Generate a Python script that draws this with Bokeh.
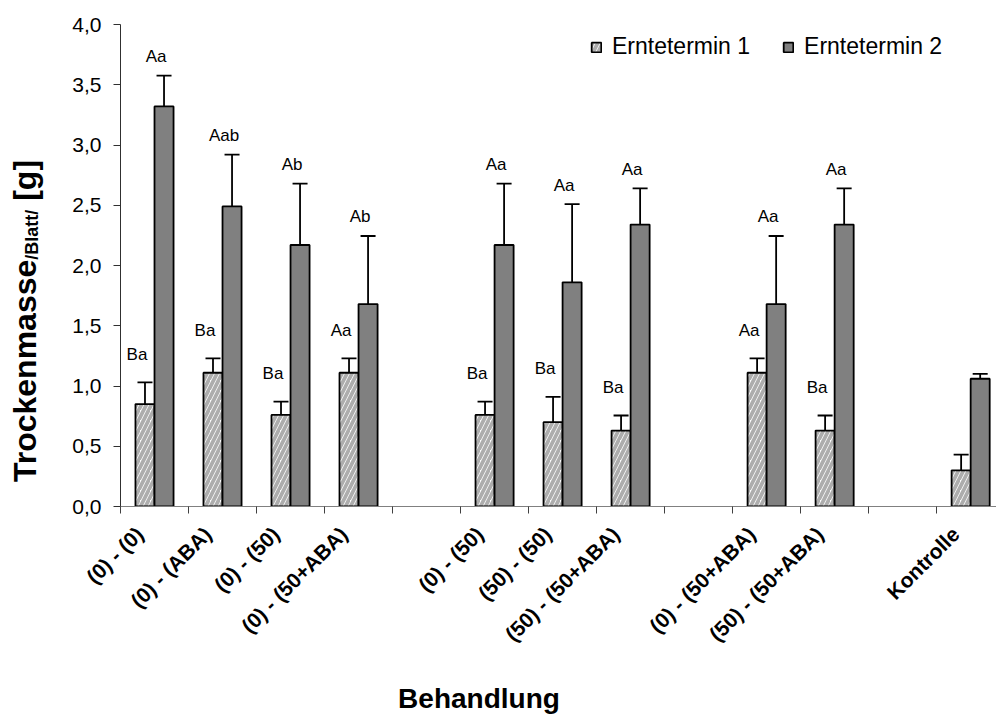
from math import pi

from bokeh.core.properties import value
from bokeh.embed import file_html
from bokeh.layouts import column, row
from bokeh.models import (ColumnDataSource, Div, FixedTicker, Legend, LegendItem,
                          Range1d, TeeHead, Whisker)
from bokeh.plotting import figure
from bokeh.resources import INLINE

# Treatment slots along the x axis; empty strings are spacer slots between groups
treatments = ["(0) - (0)", "(0) - (ABA)", "(0) - (50)", "(0) - (50+ABA)", "",
              "(0) - (50)", "(50) - (50)", "(50) - (50+ABA)", "",
              "(0) - (50+ABA)", "(50) - (50+ABA)", "", "Kontrolle"]

# Dry mass per leaf [g] and error, harvest date 1 and 2 (one value per non-empty slot)
mean_h1 = [0.85, 1.11, 0.76, 1.11, 0.76, 0.70, 0.63, 1.11, 0.63, 0.30]
err_h1 = [0.18, 0.12, 0.11, 0.12, 0.11, 0.21, 0.125, 0.12, 0.125, 0.13]
mean_h2 = [3.32, 2.49, 2.17, 1.68, 2.17, 1.86, 2.34, 1.68, 2.34, 1.06]
err_h2 = [0.255, 0.43, 0.51, 0.565, 0.51, 0.65, 0.30, 0.565, 0.30, 0.04]

# Significance letters
sig_h1 = ["Ba", "Ba", "Ba", "Aa", "Ba", "Ba", "Ba", "Aa", "Ba", ""]
sig_h2 = ["Aa", "Aab", "Ab", "Ab", "Aa", "Aa", "Aa", "Aa", "Aa", ""]

y_ticks = [0.0, 0.5, 1.0, 1.5, 2.0, 2.5, 3.0, 3.5, 4.0]

FONT = "Liberation Sans"
BAR_W = 0.28
TOTAL_W, TOTAL_H = 996, 715
LABEL_COL_W = 60      # column holding the y axis title
TITLE_ROW_H = 35      # row holding the x axis title
PLOT_H = TOTAL_H - TITLE_ROW_H

slots = [i for i, t in enumerate(treatments) if t]
x1 = [s + 0.5 - BAR_W / 2 for s in slots]
x2 = [s + 0.5 + BAR_W / 2 for s in slots]

src1 = ColumnDataSource(dict(x=x1, top=mean_h1,
                             lower=[m - e for m, e in zip(mean_h1, err_h1)],
                             upper=[m + e for m, e in zip(mean_h1, err_h1)],
                             sig=sig_h1))
src2 = ColumnDataSource(dict(x=x2, top=mean_h2,
                             lower=[m - e for m, e in zip(mean_h2, err_h2)],
                             upper=[m + e for m, e in zip(mean_h2, err_h2)],
                             sig=sig_h2))

p = figure(width=TOTAL_W - LABEL_COL_W, height=PLOT_H, output_backend="svg",
           toolbar_location=None, x_range=Range1d(0, 12.88), y_range=Range1d(0, 4),
           min_border_left=60, min_border_right=0, min_border_top=24,
           min_border_bottom=174)
p.outline_line_color = None
p.xgrid.visible = False
p.ygrid.visible = False
p.background_fill_color = "white"
p.border_fill_color = "white"

r1 = p.vbar(x="x", top="top", width=BAR_W, bottom=0, source=src1,
            fill_color="white", line_color="black", line_width=1.8,
            hatch_pattern="/", hatch_color="#adadad", hatch_weight=3.8,
            hatch_scale=10)
r2 = p.vbar(x="x", top="top", width=BAR_W, bottom=0, source=src2,
            fill_color="#808080", line_color="black", line_width=1.8)

for src in (src1, src2):
    p.add_layout(Whisker(base="x", lower="lower", upper="upper", source=src,
                         line_color="black", line_width=1.8,
                         upper_head=TeeHead(size=15, line_color="black", line_width=1.8),
                         lower_head=TeeHead(size=15, line_color="black", line_width=1.8)))

# Significance letters above the error bars
p.text(x="x", y="upper", text="sig", source=src1, x_offset=-8, y_offset=-28,
       text_font=value(FONT), text_font_size="17px", text_align="center",
       text_baseline="middle", text_color="black")
p.text(x="x", y="upper", text="sig", source=src2, x_offset=-8, y_offset=-19,
       text_font=value(FONT), text_font_size="17px", text_align="center",
       text_baseline="middle", text_color="black")

# Y axis
yax = p.yaxis[0]
yax.ticker = FixedTicker(ticks=y_ticks, minor_ticks=[])
yax.major_label_overrides = {t: f"{t:.1f}".replace(".", ",") for t in y_ticks}
yax.major_label_text_font = FONT
yax.major_label_text_font_size = "21px"
yax.major_label_text_color = "black"
yax.major_label_standoff = 12
yax.major_tick_out = 7
yax.major_tick_in = 0
yax.minor_tick_out = 0
yax.axis_line_color = "#303030"
yax.major_tick_line_color = "#303030"

# X axis: labels under each treatment, tick marks between slots
label_pos = [s + 0.5 - 0.22 for s in slots]
xax = p.xaxis[0]
xax.ticker = FixedTicker(ticks=label_pos, minor_ticks=list(range(len(treatments))))
xax.major_label_overrides = {pos: treatments[s] for pos, s in zip(label_pos, slots)}
xax.major_label_orientation = pi / 4
xax.major_label_text_font = FONT
xax.major_label_text_font_size = "21px"
xax.major_label_text_font_style = "bold"
xax.major_label_text_color = "black"
xax.major_label_standoff = 17
xax.major_tick_out = 0
xax.major_tick_in = 0
xax.minor_tick_out = 7
xax.minor_tick_in = 0
xax.minor_tick_line_color = "#404040"
xax.axis_line_color = "#808080"

legend = Legend(items=[LegendItem(label="Erntetermin 1", renderers=[r1]),
                       LegendItem(label="Erntetermin 2", renderers=[r2])],
                location=(470, 446), orientation="horizontal",
                label_text_font=FONT, label_text_font_size="23px",
                label_text_color="black", glyph_width=12, glyph_height=12,
                label_standoff=10, spacing=32, padding=0, margin=0,
                border_line_color=None, background_fill_alpha=0)
p.add_layout(legend)

# Y axis title with subscript, in a narrow column left of the plot
ylabel = Div(
    text=(
        f'<div style="position:relative; width:{LABEL_COL_W}px; height:{PLOT_H}px;">'
        '<span style="position:absolute; left:25px; top:321px; white-space:nowrap;'
        ' transform:translate(-50%,-50%) rotate(-90deg); line-height:1;'
        f" font-family:'{FONT}', Arial, sans-serif; font-weight:bold;"
        ' font-size:32px; color:black;">'
        'Trockenmasse<span style="font-size:18px; vertical-align:-2px;">'
        '/Blatt/</span> [g]</span></div>'
    ),
    width=LABEL_COL_W, height=PLOT_H, margin=0,
)

# X axis title in a strip under the plot
xlabel = Div(
    text=(
        f'<div style="position:relative; width:{TOTAL_W}px; height:{TITLE_ROW_H}px;">'
        '<span style="position:absolute; left:479px; top:19px; white-space:nowrap;'
        ' transform:translate(-50%,-50%); line-height:1;'
        f" font-family:'{FONT}', Arial, sans-serif; font-weight:bold;"
        ' font-size:28px; color:black;">Behandlung</span></div>'
    ),
    width=TOTAL_W, height=TITLE_ROW_H, margin=0,
)

layout = column(row(ylabel, p, spacing=0), xlabel, spacing=0)

open("out.html", "w").write(file_html(layout, INLINE))
